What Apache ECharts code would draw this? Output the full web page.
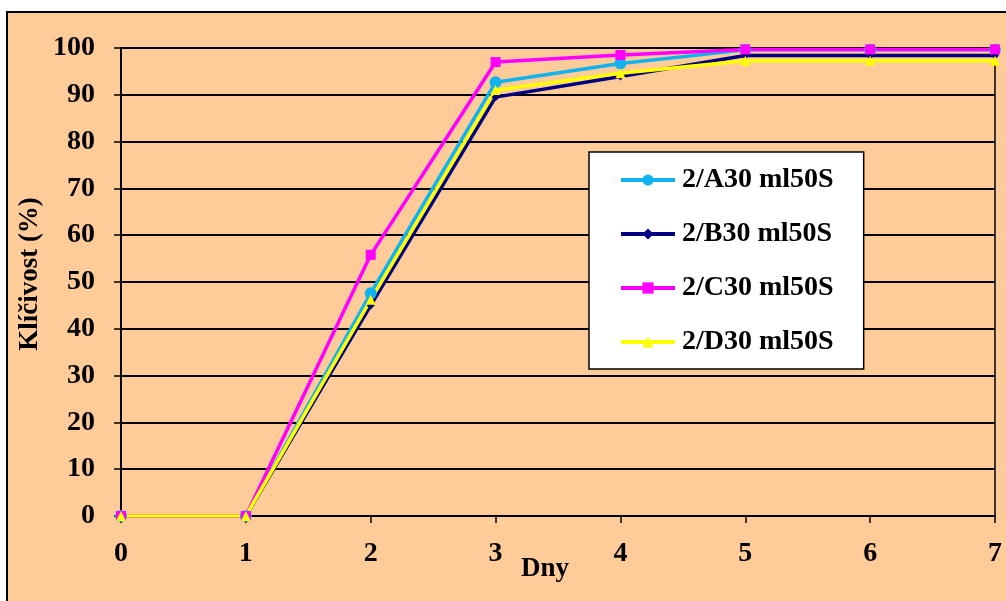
<!DOCTYPE html>
<html><head><meta charset="utf-8">
<script src="https://cdn.jsdelivr.net/npm/echarts@6/dist/echarts.min.js"></script>
<style>html,body{margin:0;padding:0;background:#fff}#c{width:1006px;height:601px}</style>
</head><body><div id="c"></div>
<script>
const days = [0, 1, 2, 3, 4, 5, 6, 7];
const seriesNames = ['2/A30 ml50S', '2/B30 ml50S', '2/C30 ml50S', '2/D30 ml50S'];
const valuesA = [0, 0, 47.6, 92.7, 96.7, 99.6, 99.6, 99.6];
const valuesB = [0, 0, 45.0, 89.5, 93.9, 98.4, 98.4, 98.4];
const valuesC = [0, 0, 55.8, 97.0, 98.5, 99.7, 99.7, 99.7];
const valuesD = [0, 0, 46.2, 91.0, 94.6, 97.3, 97.3, 97.3];
const yTicks = [0, 10, 20, 30, 40, 50, 60, 70, 80, 90, 100];

const font = 'Liberation Serif';
const pair = v => days.map((d, i) => [d, v[i]]);
const mk = (name, data, color, symbol, size) => ({
  name, type: 'line', data: pair(data), symbol, symbolSize: size,
  lineStyle: { color, width: 3.5 }, itemStyle: { color }, z: 3
});

const chart = echarts.init(document.getElementById('c'));
chart.setOption({
  backgroundColor: '#ffffff',
  animation: false,
  graphic: [{
    type: 'rect', z: -10, silent: true,
    shape: { x: 7, y: 12, width: 1010, height: 600 },
    style: { fill: '#FFCC99', stroke: '#000', lineWidth: 2 }
  }],
  grid: { left: 121, right: 11, top: 48, bottom: 85, outerBoundsMode: 'none', containLabel: false,
    show: true, borderColor: '#000', borderWidth: 1.5, backgroundColor: 'transparent' },
  xAxis: {
    type: 'value', min: 0, max: 7, interval: 1,
    name: 'Dny', nameLocation: 'middle', nameGap: 40, nameMoveOverlap: false,
    nameTextStyle: { fontFamily: font, fontWeight: 'bold', fontSize: 27, color: '#000', padding: [0, 26, 0, 0] },
    axisLine: { lineStyle: { color: '#000', width: 2 } },
    axisTick: { show: true, inside: false, length: 7, lineStyle: { color: '#000', width: 1.5 } },
    axisLabel: { fontFamily: font, fontWeight: 'bold', fontSize: 28, color: '#000', margin: 24 },
    splitLine: { show: false }
  },
  yAxis: {
    type: 'value', min: 0, max: 100, interval: 10,
    name: 'Klíčivost (%)', nameLocation: 'middle', nameGap: 77, nameRotate: 90, nameMoveOverlap: false,
    nameTextStyle: { fontFamily: font, fontWeight: 'bold', fontSize: 27, color: '#000', padding: [0, 0, 0, 16] },
    axisLine: { show: true, lineStyle: { color: '#000', width: 2 } },
    axisTick: { show: true, inside: false, length: 7, lineStyle: { color: '#000', width: 1.5 } },
    axisLabel: { fontFamily: font, fontWeight: 'bold', fontSize: 28, color: '#000', margin: 26,
      formatter: v => yTicks.includes(v) ? String(v) : '' },
    splitLine: { show: true, lineStyle: { color: '#000', width: 1.8 } }
  },
  legend: {
    orient: 'vertical', left: 589, top: 152,
    data: seriesNames,
    backgroundColor: '#fff', borderColor: '#000', borderWidth: 1.5,
    padding: [14, 30, 13, 30],
    itemWidth: 54, itemHeight: 14, itemGap: 26,
    lineStyle: { width: 4 },
    textStyle: { fontFamily: font, fontWeight: 'bold', fontSize: 28, color: '#000', padding: [0, 0, 0, 2] }
  },
  series: [
    mk(seriesNames[0], valuesA, '#11B3EE', 'circle', 12),
    mk(seriesNames[1], valuesB, '#000080', 'diamond', 8),
    mk(seriesNames[2], valuesC, '#FF00FF', 'rect', 10),
    mk(seriesNames[3], valuesD, '#FFFF00', 'triangle', 10)
  ]
});
</script></body></html>
